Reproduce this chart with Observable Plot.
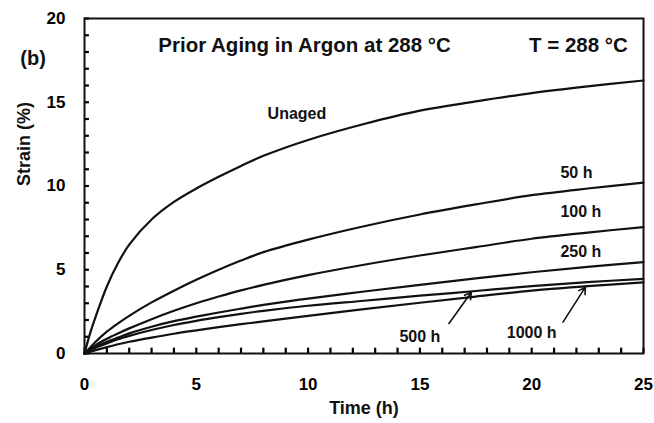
<!DOCTYPE html>
<html>
<head>
<meta charset="utf-8">
<script src="https://cdn.jsdelivr.net/npm/d3@7"></script>
<script src="https://cdn.jsdelivr.net/npm/@observablehq/plot@0.6"></script>
<style>
  html, body { margin: 0; padding: 0; background: #fff; }
  svg { display: block; }
</style>
</head>
<body>
<div id="chart"></div>
<script>
// Time grid (h)
const times = [0, 0.25, 0.5, 1, 1.5, 2, 3, 4, 5, 6, 7, 8, 10, 12.5, 15, 17.5, 20, 22.5, 25];

// Strain (%) per series
const unaged = [0, 1.2, 2.2, 4.0, 5.4, 6.5, 8.0, 9.05, 9.85, 10.55, 11.2, 11.8, 12.75, 13.7, 14.5, 15.05, 15.55, 15.95, 16.3];
const aged50 = [0, 0.35, 0.7, 1.3, 1.8, 2.25, 3.05, 3.75, 4.4, 5.0, 5.55, 6.05, 6.8, 7.6, 8.3, 8.9, 9.45, 9.85, 10.2];
const aged100 = [0, 0.25, 0.5, 0.88, 1.2, 1.5, 2.05, 2.55, 3.0, 3.4, 3.77, 4.1, 4.68, 5.3, 5.85, 6.35, 6.85, 7.22, 7.55];
const aged250 = [0, 0.2, 0.4, 0.7, 0.95, 1.2, 1.6, 1.93, 2.2, 2.45, 2.68, 2.9, 3.28, 3.7, 4.1, 4.48, 4.85, 5.17, 5.45];
const aged500 = [0, 0.18, 0.35, 0.6, 0.85, 1.05, 1.4, 1.7, 1.95, 2.17, 2.37, 2.55, 2.85, 3.15, 3.45, 3.73, 4.02, 4.26, 4.46];
const aged1000 = [0, 0.1, 0.2, 0.38, 0.55, 0.7, 0.95, 1.18, 1.38, 1.57, 1.75, 1.92, 2.25, 2.65, 3.03, 3.4, 3.75, 4.02, 4.25];

const seriesNames = ["Unaged", "50 h", "100 h", "250 h", "500 h", "1000 h"];
const seriesValues = [unaged, aged50, aged100, aged250, aged500, aged1000];

// Axis ticks
const xTickLabels = [0, 5, 10, 15, 20, 25];
const yTickLabels = [0, 5, 10, 15, 20];
const xMinorTicks = d3.range(0, 26, 1);
const yMinorTicks = d3.range(0, 21, 1);
const xTitle = ["Time (h)"];
const yTitle = ["Strain (%)"];

// Curve labels (anchored in data units)
const curveLabels = [
  {text: "Unaged", x: 9.5, y: 14.3},
  {text: "50 h", x: 22.0, y: 10.8},
  {text: "100 h", x: 22.2, y: 8.43},
  {text: "250 h", x: 22.2, y: 6.04},
  {text: "500 h", x: 15.0, y: 0.97},
  {text: "1000 h", x: 20.0, y: 1.21}
];

// Arrows pointing from labels to curves
const arrows = [
  {x1: 16.3, y1: 1.79, x2: 17.3, y2: 3.66},
  {x1: 21.4, y1: 1.87, x2: 22.4, y2: 3.96}
];

const titleText = [{text: "Prior Aging in Argon at 288 \u00B0C", x: 3.3, y: 18.38}];
const tempText = [{text: "T = 288 \u00B0C", x: 24.3, y: 18.38}];
const panelText = [{text: "(b)", x: -2.3, y: 17.6}];

const rows = [];
seriesNames.forEach((name, i) => {
  seriesValues[i].forEach((v, j) => rows.push({series: name, time: times[j], strain: v}));
});

const W = 654, H = 423, ML = 84, MR = 11, MT = 18, MB = 70;
const font = "'Liberation Sans', Arial, Helvetica, sans-serif";

const chart = Plot.plot({
  width: W,
  height: H,
  marginLeft: ML,
  marginRight: MR,
  marginTop: MT,
  marginBottom: MB,
  style: {fontFamily: font, fontWeight: "bold", fontSize: "16px", background: "#fff", color: "#000"},
  x: {domain: [0, 25]},
  y: {domain: [0, 20]},
  marks: [
    Plot.axisX(xTickLabels, {tickSize: 0, tickPadding: 24, fontSize: 17, fontWeight: "bold", label: null}),
    Plot.axisY(yTickLabels, {tickSize: 0, tickPadding: 19, fontSize: 17, fontWeight: "bold", label: null}),
    // inward minor ticks
    Plot.ruleX(xMinorTicks, {x: d => d, y1: 0, y2: 0.32, stroke: "#000", strokeWidth: 2.2}),
    Plot.ruleY(yMinorTicks, {y: d => d, x1: 0, x2: 0.22, stroke: "#000", strokeWidth: 2.2}),
    Plot.text(xTitle, {frameAnchor: "bottom", dy: 60, fontSize: 18, fontWeight: "bold", fill: "#111", letterSpacing: "0.5px"}),
    Plot.text(yTitle, {frameAnchor: "left", dx: -60, rotate: -90, fontSize: 18, fontWeight: "bold", fill: "#111", letterSpacing: "0.5px"}),
    Plot.line(rows, {x: "time", y: "strain", z: "series", stroke: "#111", strokeWidth: 2.2, curve: "catmull-rom"}),
    Plot.arrow(arrows, {x1: "x1", y1: "y1", x2: "x2", y2: "y2", stroke: "#111", strokeWidth: 1.6, headLength: 7, bend: false}),
    Plot.text(curveLabels, {x: "x", y: "y", text: "text", fontSize: 16, fontWeight: "bold", fill: "#111"}),
    Plot.text(titleText, {x: "x", y: "y", text: "text", textAnchor: "start", fontSize: 20.5, fontWeight: "bold", fill: "#111", letterSpacing: "0.45px"}),
    Plot.text(tempText, {x: "x", y: "y", text: "text", textAnchor: "end", fontSize: 20.5, fontWeight: "bold", fill: "#111"}),
    Plot.text(panelText, {x: "x", y: "y", text: "text", fontSize: 20, fontWeight: "bold", fill: "#111"}),
    Plot.frame({stroke: "#111", strokeWidth: 2})
  ]
});

document.getElementById("chart").appendChild(chart);
</script>
</body>
</html>
